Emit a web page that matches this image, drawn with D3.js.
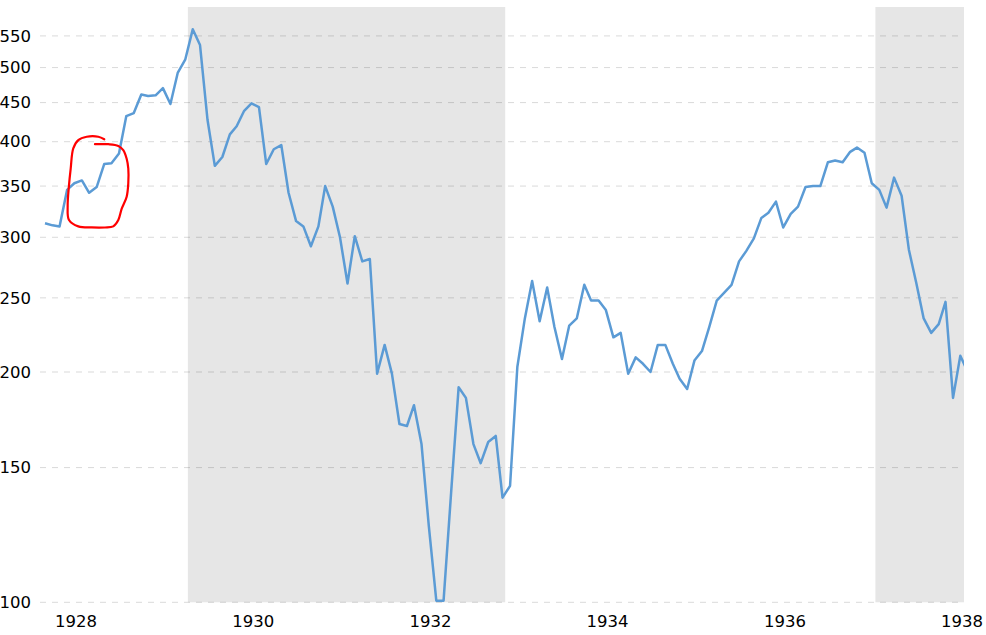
<!DOCTYPE html>
<html><head><meta charset="utf-8">
<script src="https://cdn.jsdelivr.net/npm/d3@7"></script>
<style>
body{margin:0;background:#fff;}
svg{display:block;}
text{font-family:"DejaVu Sans",Verdana,sans-serif;}
</style>
</head><body>
<svg id="chart" width="986" height="635"></svg>
<script>
// ---- data ----
const startMonth = "1928-01";
const values = [
  313,311,310,346,353,356,343,349,374,375,386,432,   // 1928
  436,461,459,460,470,448,492,512,561,535,427,372,   // 1929
  382,409,419,439,449,444,374,391,396,343,315,310,   // 1930
  292,310,350,329,300,261,301,279,281,199,217,199,   // 1931
  171,170,181,161,126,100.5,100.5,139,191,185,161,152, // 1932
  162,165,137,142,203,235,263,233,258,229,208,230,   // 1933
  235,260,248,248,241,222,225,199,209,205,200,217,   // 1934
  217,205,196,190,207,213,229,248,254,260,279,288,   // 1935
  299,318,323,334,309,322,329,349,350,350,376,378,   // 1936
  376,388,393,387,353,346,328,359,340,289,261,235,   // 1937
  225,231,247,185,210,200                            // 1938
];
const yTicks = [100,150,200,250,300,350,400,450,500,550];
const xTickYears = [1928,1930,1932,1934,1936,1938];
const recessionStarts = ["1929-08-12","1937-05-16"];
const recessionEnds   = ["1933-03-12","1938-07-01"];
// hand-drawn red annotation (months after start, value)
const annoMonths = [8.03,7.22,5.65,4.51,3.83,3.48,3.25,3.07,3.25,4.51,6.32,8.12,9.25,9.93,10.39,11.06,11.28,11.28,11.06,10.60,9.93,8.57,6.77];
const annoValues = [403,406,406,402,392,369,351,330,316,310,309,309,310,316,327,339,353,369,380,390,395,397,397];

// ---- layout ----
const W = 986, H = 635;
const plotLeft = 40, plotRight = 964, plotTop = 7, plotBottom = 602.3;
const monthPx = 7.385, firstX = 45;
const fontSize = 16.5;

const svg = d3.select("#chart");
const parseDay = d3.timeParse("%Y-%m-%d");
const start = d3.timeParse("%Y-%m")(startMonth);
const data = values.map((v,i)=>({date: d3.timeMonth.offset(start,i), value: v}));

const x = d3.scaleTime()
  .domain([start, d3.timeMonth.offset(start,120)])
  .range([firstX, firstX + 120*monthPx]);
const y = d3.scaleLog().domain([100,600]).range([plotBottom, plotTop]);

svg.append("defs").append("clipPath").attr("id","clip")
  .append("rect").attr("x",plotLeft).attr("y",0).attr("width",plotRight-plotLeft).attr("height",H);

// recession bands
svg.append("g").attr("clip-path","url(#clip)")
  .selectAll("rect").data(recessionStarts.map((s,i)=>[parseDay(s),parseDay(recessionEnds[i])]))
  .join("rect")
  .attr("x",d=>x(d[0]))
  .attr("width",d=>Math.min(x(d[1]),plotRight)-x(d[0]))
  .attr("y",plotTop).attr("height",plotBottom-plotTop)
  .attr("fill","#e6e6e6");

// gridlines
svg.append("g").selectAll("line").data(yTicks).join("line")
  .attr("x1",plotLeft).attr("x2",plotRight-1)
  .attr("y1",d=>y(d)).attr("y2",d=>y(d))
  .attr("stroke","#000").attr("stroke-opacity",0.15)
  .attr("stroke-width",1).attr("stroke-dasharray","6,6");

// y axis
const yAxis = svg.append("g").attr("transform","translate(31,0)")
  .call(d3.axisLeft(y).tickValues(yTicks).tickSize(0).tickPadding(0).tickFormat(d3.format("d")));
yAxis.select(".domain").remove();
yAxis.selectAll("text").attr("font-size",fontSize).attr("fill","#000").attr("font-family","DejaVu Sans, Verdana, sans-serif");

// x axis (labels sit a little after January in the reference)
const tickDates = xTickYears.map(yr=>new Date(yr,4,6));
const xAxis = svg.append("g").attr("transform",`translate(0,${plotBottom})`)
  .call(d3.axisBottom(x).tickValues(tickDates).tickSize(0).tickPadding(13).tickFormat(d3.timeFormat("%Y")));
xAxis.select(".domain").remove();
xAxis.selectAll("text").attr("font-size",fontSize).attr("fill","#000").attr("font-family","DejaVu Sans, Verdana, sans-serif");

// line
svg.append("path").datum(data).attr("clip-path","url(#clip)")
  .attr("fill","none").attr("stroke","#5b9bd5").attr("stroke-width",2.5)
  .attr("stroke-linejoin","round")
  .attr("d",d3.line().x(d=>x(d.date)).y(d=>y(d.value)));

// red annotation
const anno = annoMonths.map((m,i)=>({date:new Date(start.getTime()+m*30.4375*864e5), value:annoValues[i]}));
svg.append("path").datum(anno)
  .attr("fill","none").attr("stroke","#ff0000").attr("stroke-width",2.2)
  .attr("stroke-linecap","round").attr("stroke-linejoin","round")
  .attr("d",d3.line().curve(d3.curveCatmullRom).x(d=>x(d.date)).y(d=>y(d.value)));
</script>
</body></html>
